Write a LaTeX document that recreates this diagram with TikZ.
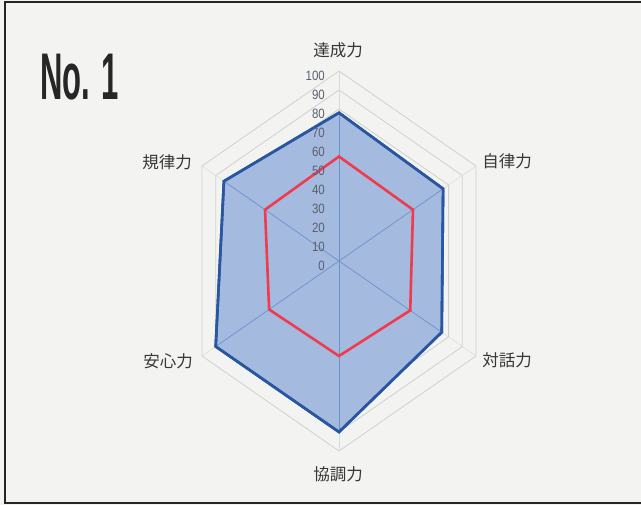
\documentclass[tikz,border=0pt]{standalone}
\usepackage{fontspec}
\setmainfont{Liberation Sans}
\newfontfamily\cjkfont{Noto Sans CJK JP}
\newfontfamily\numfont[FakeStretch=0.85]{Liberation Sans}
\newfontfamily\titlefont[FakeStretch=0.47]{Liberation Sans}
\usetikzlibrary{calc}
\definecolor{paper}{RGB}{243,243,241}
\definecolor{ringgray}{RGB}{208,208,208}
\definecolor{seriesfill}{RGB}{164,186,223}
\definecolor{seriesline}{RGB}{40,86,160}
\definecolor{redline}{RGB}{240,58,78}
\definecolor{spokeblue}{RGB}{110,145,205}
\definecolor{labelgray}{RGB}{55,55,55}
\definecolor{tickgray}{RGB}{90,96,110}
\tikzset{
  ring/.style={draw=ringgray, line width=0.8pt},
  spokeline/.style={draw=spokeblue, line width=0.7pt},
  outerspoke/.style={draw=ringgray!80, line width=0.5pt},
  bluearea/.style={fill=seriesfill, draw=seriesline, line width=2.6pt, line join=miter},
  redarea/.style={draw=redline, line width=2.6pt, line join=miter},
  ticklabel/.style={font=\numfont\fontsize{13.5pt}{14pt}\selectfont, text=tickgray, anchor=east, inner sep=0pt, text height=9.7pt, text depth=0pt},
  catlabel/.style={font=\cjkfont\fontsize{16.5pt}{18pt}\selectfont, text=labelgray, inner sep=0pt},
  frameline/.style={draw=black!85, line width=2.6pt}
}
\begin{document}
\begin{tikzpicture}[x=1pt,y=-1pt]
\useasboundingbox (0,0) rectangle (641,505);
\fill[paper] (0,0) rectangle (641,505);
% frame
\draw[frameline] (660,2) -- (5,2) -- (5,503) -- (660,503);
% title
\node[font=\titlefont\bfseries\fontsize{66pt}{66pt}\selectfont, text=black!85, anchor=base west, inner sep=0pt] (title) at (40,100) {No. 1};
% geometry
\coordinate (c) at (339,261);
\coordinate (a1) at (339,71);
\coordinate (a2) at (476,166);
\coordinate (a3) at (476,356);
\coordinate (a4) at (339,451);
\coordinate (a5) at (202,356);
\coordinate (a6) at (202,166);
% rings
\foreach \i in {1,...,10} {
  \pgfmathsetmacro\v{\i/10}
  \draw[ring] ($(c)!\v!(a1)$) -- ($(c)!\v!(a2)$) -- ($(c)!\v!(a3)$) -- ($(c)!\v!(a4)$) -- ($(c)!\v!(a5)$) -- ($(c)!\v!(a6)$) -- cycle;
}
\foreach \k in {1,...,6} \draw[outerspoke] (c) -- (a\k);
% blue series
\path[bluearea] ($(c)!0.78!(a1)$) -- ($(c)!0.76!(a2)$) -- ($(c)!0.75!(a3)$) -- ($(c)!0.90!(a4)$) -- ($(c)!0.90!(a5)$) -- ($(c)!0.84!(a6)$) -- cycle;
\begin{scope}
  \clip ($(c)!0.78!(a1)$) -- ($(c)!0.76!(a2)$) -- ($(c)!0.75!(a3)$) -- ($(c)!0.90!(a4)$) -- ($(c)!0.90!(a5)$) -- ($(c)!0.84!(a6)$) -- cycle;
  \foreach \k in {1,...,6} \draw[spokeline] (c) -- (a\k);
\end{scope}
\path[bluearea, fill=none] ($(c)!0.78!(a1)$) -- ($(c)!0.76!(a2)$) -- ($(c)!0.75!(a3)$) -- ($(c)!0.90!(a4)$) -- ($(c)!0.90!(a5)$) -- ($(c)!0.84!(a6)$) -- cycle;
% red series
\path[redarea] ($(c)!0.55!(a1)$) -- ($(c)!0.54!(a2)$) -- ($(c)!0.52!(a3)$) -- ($(c)!0.50!(a4)$) -- ($(c)!0.51!(a5)$) -- ($(c)!0.54!(a6)$) -- cycle;
% tick labels
\foreach \i in {0,...,10} {
  \pgfmathtruncatemacro\val{\i*10}
  \node[ticklabel] (t\i) at (325,{261-19*\i+4.85}) {\val};
}
% category labels
\node[catlabel] (l1) at (338,50) {達成力};
\node[catlabel] (l2) at (507,161.5) {自律力};
\node[catlabel] (l3) at (507,360) {対話力};
\node[catlabel] (l4) at (338,474) {協調力};
\node[catlabel] (l5) at (168,361) {安心力};
\node[catlabel] (l6) at (167,162) {規律力};
\end{tikzpicture}
\end{document}
